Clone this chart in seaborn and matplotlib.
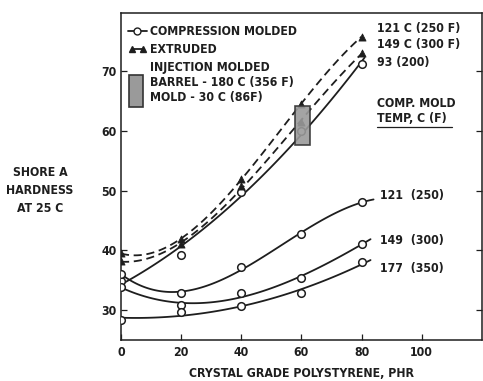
import numpy as np
import pandas as pd
import matplotlib
matplotlib.use("Agg")
import matplotlib.pyplot as plt
import seaborn as sns
from matplotlib.patches import Rectangle, Patch
from matplotlib.lines import Line2D
from matplotlib.legend_handler import HandlerPatch, HandlerLine2D

# ---------------- data ----------------
phr = [0, 20, 40, 60, 80]
comp_93 = [34.9, 39.3, 49.7, 60.0, 71.2]     # compression molded, 93 C (200 F)
comp_121 = [36.1, 32.8, 37.2, 42.7, 48.1]    # 121 (250)
comp_149 = [33.9, 30.8, 32.8, 35.3, 41.1]    # 149 (300)
comp_177 = [28.4, 29.7, 30.7, 32.8, 38.0]    # 177 (350)
extr_121 = [39.5, 41.9, 52.0, 64.5, 75.8]    # extruded, 121 C (250 F)
extr_149 = [38.2, 41.0, 50.8, 61.5, 73.0]    # extruded, 149 C (300 F)
inj_phr = [58.0, 63.0]                        # injection molded box, x extent
inj_hard = [57.6, 64.1]                       # injection molded box, y extent

x_ticks = [0, 20, 40, 60, 80, 100]
y_ticks = [30, 40, 50, 60, 70]

comp_labels = ["93 (200)", "121  (250)", "149  (300)", "177  (350)"]
extr_labels = ["121 C (250 F)", "149 C (300 F)"]

sns.set_style("ticks")
plt.rcParams["font.family"] = ["DejaVu Sans"]
plt.rcParams["font.stretch"] = "condensed"
plt.rcParams["font.weight"] = "bold"

INK = "#1e1e1e"
FS = 8.8

fig = plt.figure(figsize=(4.83, 3.81), dpi=100)
ax = fig.add_axes([0.2505, 0.1076, 0.747, 0.8591])

def fit_curve(ys, order, x_end):
    coef = np.polyfit(phr, ys, order)
    xs = np.linspace(0, x_end, 120)
    return pd.DataFrame({"x": xs, "y": np.polyval(coef, xs)})

# compression molded curves (solid, smoothed fits) + open circles
for ys, order, xend in [(comp_93, 2, 81), (comp_121, 3, 84),
                        (comp_149, 3, 83), (comp_177, 2, 83)]:
    d = fit_curve(ys, order, xend)
    sns.lineplot(data=d, x="x", y="y", ax=ax, color=INK, lw=1.3, sort=False)
    sns.scatterplot(x=phr, y=ys, ax=ax, marker="o", s=30, facecolor="white",
                    edgecolor=INK, linewidth=1.1, zorder=4)

# extruded curves (dashed) + filled triangles
for ys in [extr_121, extr_149]:
    d = fit_curve(ys, 3, 80)
    sns.lineplot(data=d, x="x", y="y", ax=ax, color=INK, lw=1.3,
                 linestyle=(0, (4.5, 2.6)), sort=False)
    sns.scatterplot(x=phr, y=ys, ax=ax, marker="^", s=26, color=INK,
                    edgecolor=INK, linewidth=0.6, zorder=4)

# injection molded box
ax.add_patch(Rectangle((inj_phr[0], inj_hard[0]), inj_phr[1] - inj_phr[0],
                       inj_hard[1] - inj_hard[0], facecolor="#9a9a9a",
                       edgecolor="#333333", lw=1.2, zorder=5, alpha=0.9))

# ---------------- axes ----------------
ax.set_xlim(0, 120)
ax.set_ylim(25, 79.8)
ax.set_xticks(x_ticks)
ax.set_yticks(y_ticks)
ax.set_xticklabels([str(v) for v in x_ticks])
ax.set_yticklabels([str(v) for v in y_ticks])
ax.tick_params(direction="in", length=4, width=0.9, labelsize=FS, colors=INK,
               right=True, top=False, labelright=False)
ax.tick_params(axis="y", pad=3)
ax.tick_params(axis="x", pad=4)
for sp in ax.spines.values():
    sp.set_visible(True)
    sp.set_color(INK)
    sp.set_linewidth(1.1)
ax.set_xlabel("CRYSTAL GRADE POLYSTYRENE, PHR", fontsize=FS, color=INK,
              labelpad=6, fontweight="bold")
ax.set_ylabel("")
fig.text(0.083, 0.50, "SHORE A\nHARDNESS\nAT 25 C", ha="center", va="center",
         fontsize=FS, color=INK, linespacing=1.45, fontweight="bold")

# ---------------- curve labels ----------------
ax.text(85, 77.2, extr_labels[0], fontsize=FS, color=INK, va="center")
ax.text(85, 74.4, extr_labels[1], fontsize=FS, color=INK, va="center")
ax.text(85, 71.5, comp_labels[0], fontsize=FS, color=INK, va="center")
ax.text(85, 64.6, "COMP. MOLD", fontsize=FS, color=INK, va="center")
ax.text(85, 62.1, "TEMP, C (F)", fontsize=FS, color=INK, va="center")
ax.plot([85, 110], [60.6, 60.6], color=INK, lw=0.9)
ax.text(86, 49.2, comp_labels[1], fontsize=FS, color=INK, va="center")
ax.text(86, 41.7, comp_labels[2], fontsize=FS, color=INK, va="center")
ax.text(86, 37.0, comp_labels[3], fontsize=FS, color=INK, va="center")

# ---------------- legend ----------------
class TallBox(HandlerPatch):
    def create_artists(self, legend, orig_handle, xdescent, ydescent, width,
                       height, fontsize, trans):
        r = Rectangle((-xdescent + 0.5, -ydescent - 14), width - 3, 22.5,
                      facecolor="#9a9a9a", edgecolor="#333333", lw=1.2,
                      transform=trans)
        return [r]

h_comp = Line2D([], [], color=INK, lw=1.3, marker="o", markersize=5,
                markerfacecolor="white", markeredgecolor=INK)
h_extr = Line2D([], [], color=INK, lw=1.3, marker="^", markersize=5,
                markerfacecolor=INK, markeredgecolor=INK)
h_inj = Patch(facecolor="#9a9a9a", edgecolor="#333333")
leg = ax.legend([h_comp, h_extr, h_inj],
                ["COMPRESSION MOLDED", "EXTRUDED",
                 "INJECTION MOLDED\nBARREL - 180 C (356 F)\nMOLD - 30 C (86F)"],
                handler_map={h_extr: HandlerLine2D(numpoints=2),
                             h_inj: TallBox()},
                loc="upper left", bbox_to_anchor=(0.0, 0.985), frameon=False,
                fontsize=FS, handlelength=1.5, handletextpad=0.3,
                labelspacing=0.4, borderaxespad=0.2, numpoints=1,
                labelcolor=INK)

fig.savefig("out.png", dpi=100)
